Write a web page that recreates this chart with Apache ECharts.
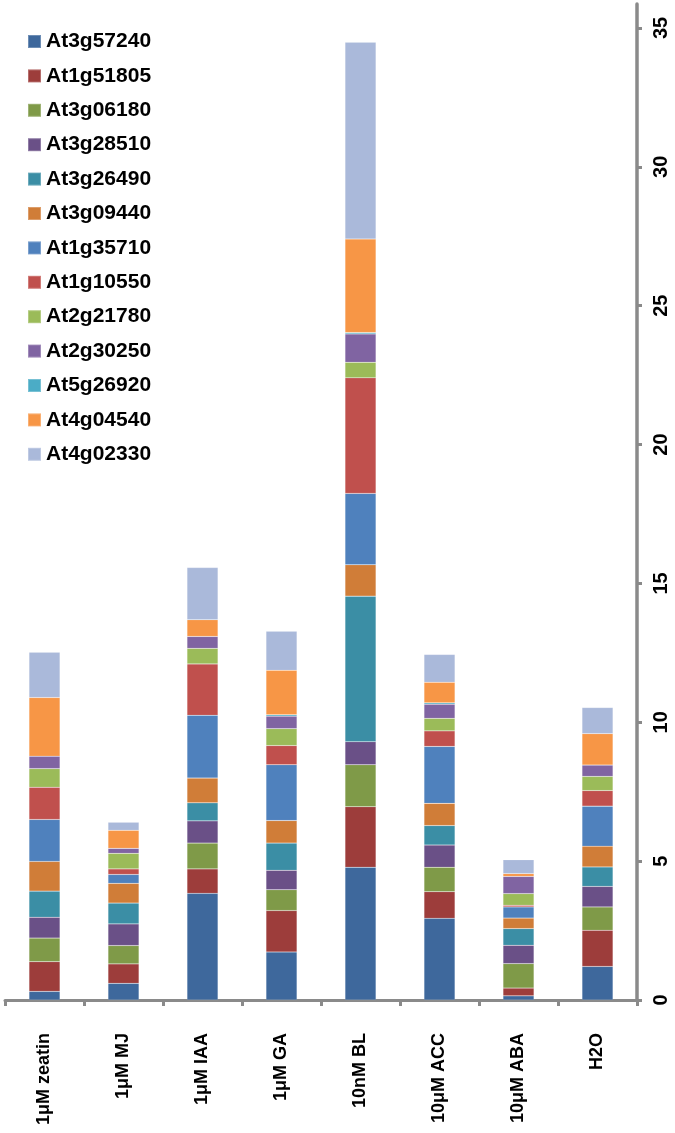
<!DOCTYPE html>
<html>
<head>
<meta charset="utf-8">
<script src="https://cdn.jsdelivr.net/npm/echarts@6/dist/echarts.min.js"></script>
<style>
html,body{margin:0;padding:0;background:#fff;}
#chart{width:675px;height:1133px;}
</style>
</head>
<body>
<div id="chart"></div>
<script>
var categories = ['1μM zeatin', '1μM MJ', '1μM IAA', '1μM GA', '10nM BL', '10μM ACC', '10μM ABA', 'H2O'];

var At3g57240 = [0.31, 0.60, 3.84, 1.73, 4.78, 2.94, 0.15, 1.21];
var At1g51805 = [1.07, 0.70, 0.88, 1.49, 2.18, 0.96, 0.28, 1.30];
var At3g06180 = [0.85, 0.66, 0.93, 0.75, 1.51, 0.88, 0.88, 0.84];
var At3g28510 = [0.75, 0.78, 0.80, 0.70, 0.83, 0.80, 0.66, 0.74];
var At3g26490 = [0.94, 0.75, 0.65, 0.98, 5.24, 0.70, 0.60, 0.70];
var At3g09440 = [1.07, 0.71, 0.89, 0.81, 1.13, 0.80, 0.38, 0.75];
var At1g35710 = [1.51, 0.32, 2.26, 2.01, 2.57, 2.05, 0.40, 1.44];
var At1g10550 = [1.16, 0.20, 1.85, 0.69, 4.16, 0.56, 0.06, 0.56];
var At2g21780 = [0.67, 0.56, 0.56, 0.61, 0.56, 0.45, 0.42, 0.51];
var At2g30250 = [0.45, 0.18, 0.43, 0.45, 1.02, 0.51, 0.62, 0.41];
var At5g26920 = [0.00, 0.00, 0.00, 0.05, 0.05, 0.05, 0.00, 0.00];
var At4g04540 = [2.11, 0.65, 0.60, 1.60, 3.37, 0.74, 0.10, 1.13];
var At4g02330 = [1.63, 0.29, 1.88, 1.41, 7.08, 1.00, 0.50, 0.94];

var yTicks = [0, 5, 10, 15, 20, 25, 30, 35];

var seriesNames = ['At3g57240','At1g51805','At3g06180','At3g28510','At3g26490','At3g09440','At1g35710','At1g10550','At2g21780','At2g30250','At5g26920','At4g04540','At4g02330'];
var seriesData = [At3g57240,At1g51805,At3g06180,At3g28510,At3g26490,At3g09440,At1g35710,At1g10550,At2g21780,At2g30250,At5g26920,At4g04540,At4g02330];
var colors = ['#3E689C','#9D3D3B','#7F9A48','#6A5087','#3B8EA5','#D07D38','#4F81BD','#C0504D','#9BBB59','#8064A2','#4BACC6','#F79646','#AAB9DA'];

var axisColor = '#8a8a8a';
var fontFam = '"Liberation Sans", Arial, sans-serif';

var chart = echarts.init(document.getElementById('chart'), null, {renderer: 'canvas'});
chart.setOption({
  animation: false,
  backgroundColor: '#ffffff',
  color: colors,
  grid: {left: 5, right: 38, top: 4, bottom: 133, containLabel: false},
  legend: {
    orient: 'vertical',
    left: 22,
    top: 26,
    itemWidth: 13,
    itemHeight: 13,
    itemGap: 13.4,
    icon: 'rect',
    data: seriesNames,
    textStyle: {fontSize: 21, fontWeight: 'bold', color: '#000', fontFamily: fontFam, lineHeight: 20}
  },
  xAxis: {
    type: 'category',
    data: categories,
    boundaryGap: true,
    axisLine: {lineStyle: {color: axisColor, width: 3}},
    axisTick: {show: true, length: 6, lineStyle: {color: axisColor, width: 3}},
    axisLabel: {rotate: 90, fontSize: 18, fontWeight: 'bold', color: '#000', fontFamily: fontFam, margin: 33, interval: 0}
  },
  yAxis: {
    type: 'value',
    position: 'right',
    min: 0,
    max: 35.86,
    interval: 5,
    axisLine: {show: true, lineStyle: {color: axisColor, width: 3.5}},
    axisTick: {show: true, length: 5, customValues: yTicks, lineStyle: {color: axisColor, width: 3}},
    splitLine: {show: false},
    axisLabel: {rotate: 90, fontSize: 20, fontWeight: 'bold', color: '#000', fontFamily: fontFam, margin: 14, customValues: yTicks}
  },
  series: seriesNames.map(function (n, i) {
    return {
      name: n,
      type: 'bar',
      stack: 'total',
      barWidth: 31,
      data: seriesData[i],
      itemStyle: {color: colors[i], borderColor: 'rgba(255,255,255,0.25)', borderWidth: 0.5}
    };
  })
});
</script>
</body>
</html>
